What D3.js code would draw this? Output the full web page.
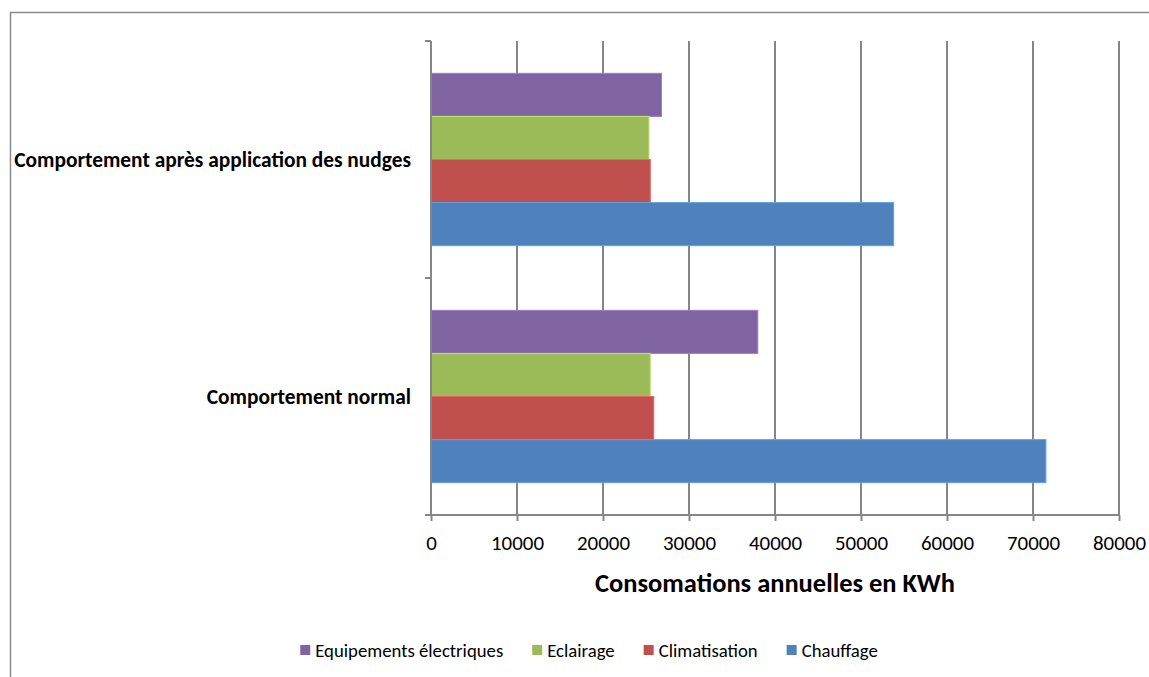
<!DOCTYPE html>
<html>
<head>
<meta charset="utf-8">
<script src="https://cdn.jsdelivr.net/npm/d3@7"></script>
<style>
  html, body { margin: 0; padding: 0; background: #fff; }
  svg { display: block; }
  text { font-family: Carlito, Calibri, Lato, "Open Sans", sans-serif; fill: #000; }
</style>
</head>
<body>
<svg id="chart" width="1149" height="677"></svg>
<script>
// ---- Data ----
const categories = ["Comportement après application des nudges", "Comportement normal"];
const seriesNames = ["Equipements électriques", "Eclairage", "Climatisation", "Chauffage"];
const seriesColors = ["#8064A2", "#9BBB59", "#C0504D", "#4F81BD"];
// values per series, in category order [nudges, normal]
const equipements = [26800, 38000];
const eclairage = [25350, 25500];
const climatisation = [25500, 25900];
const chauffage = [53800, 71500];
const xTicks = [0, 10000, 20000, 30000, 40000, 50000, 60000, 70000, 80000];
const xTitle = "Consomations annuelles en KWh";

const seriesValues = [equipements, eclairage, climatisation, chauffage];

// ---- Layout ----
const svg = d3.select("#chart");
const plot = { left: 431, right: 1119, top: 41, bottom: 515 };
const gridColor = "#868686";

function fitFont(sel, refText, targetWidth, baseSize) {
  const t = svg.append("text").attr("font-size", baseSize)
    .attr("font-weight", sel.weight || "normal").text(refText);
  const w = t.node().getComputedTextLength();
  t.remove();
  return baseSize * targetWidth / w;
}

const x = d3.scaleLinear().domain([0, 80000]).range([plot.left, plot.right]);
const y = d3.scaleBand().domain(categories).range([plot.top, plot.bottom]).paddingInner(0).paddingOuter(0);
const ySub = d3.scaleBand().domain(seriesNames).range([0, y.bandwidth()]).paddingInner(0).paddingOuter(0.75);

// outer frame (top and left only visible)
svg.append("path")
  .attr("d", `M10.5,677 L10.5,12.5 L1149,12.5`)
  .attr("fill", "none").attr("stroke", "#8a8a8a").attr("stroke-width", 1.5);

// gridlines
svg.append("g").selectAll("line").data(xTicks.slice(1)).join("line")
  .attr("x1", d => x(d)).attr("x2", d => x(d))
  .attr("y1", plot.top).attr("y2", plot.bottom)
  .attr("stroke", gridColor).attr("stroke-width", 2);

// bars
const groups = svg.append("g").selectAll("g").data(categories).join("g")
  .attr("transform", d => `translate(0,${y(d)})`);
groups.each(function(cat, ci) {
  d3.select(this).selectAll("rect").data(seriesNames).join("rect")
    .attr("x", x(0))
    .attr("y", s => ySub(s))
    .attr("width", (s, si) => x(seriesValues[si][ci]) - x(0))
    .attr("height", ySub.bandwidth())
    .attr("fill", (s, si) => seriesColors[si])
    .attr("stroke", (s, si) => d3.color(seriesColors[si]).brighter(0.6))
    .attr("stroke-width", 1);
});

// x axis
const xAxis = d3.axisBottom(x).tickValues(xTicks).tickSize(6).tickFormat(d3.format("d"));
const tickSize = fitFont({}, "10000", 53, 16);
const gx = svg.append("g").attr("transform", `translate(0,${plot.bottom})`).call(xAxis);
gx.select(".domain").attr("stroke", gridColor).attr("stroke-width", 2)
  .attr("d", `M${plot.left},0H${plot.right}`);
gx.selectAll(".tick line").attr("stroke", gridColor).attr("stroke-width", 2);
gx.selectAll(".tick text").attr("font-size", tickSize)
  .attr("font-family", "Carlito, Calibri, Lato, 'Open Sans', sans-serif")
  .attr("fill", "#000").attr("y", 0).attr("dy", "0.35em")
  .attr("transform", "translate(0,28)");

// y axis
const yTicksPos = [plot.top, plot.top + y.bandwidth(), plot.bottom];
svg.append("line").attr("x1", plot.left).attr("x2", plot.left)
  .attr("y1", plot.top).attr("y2", plot.bottom)
  .attr("stroke", gridColor).attr("stroke-width", 2);
svg.append("g").selectAll("line").data(yTicksPos).join("line")
  .attr("x1", plot.left - 6).attr("x2", plot.left)
  .attr("y1", d => d).attr("y2", d => d)
  .attr("stroke", gridColor).attr("stroke-width", 2);

// category labels
const catSize = fitFont({ weight: "bold" }, categories[0], 397, 16);
svg.append("g").selectAll("text").data(categories).join("text")
  .attr("x", 411).attr("y", d => y(d) + y.bandwidth() / 2)
  .attr("dy", "0.35em").attr("text-anchor", "end")
  .attr("font-weight", "bold").attr("font-size", catSize)
  .text(d => d);

// x title
const titleSize = fitFont({ weight: "bold" }, xTitle, 360, 20);
svg.append("text").attr("x", (plot.left + plot.right) / 2).attr("y", 583)
  .attr("dy", "0.35em").attr("text-anchor", "middle")
  .attr("font-weight", "bold").attr("font-size", titleSize)
  .text(xTitle);

// legend
const legSize = fitFont({}, seriesNames[0], 188, 15);
const legY = 650, markerSize = 10, markerGap = 5, itemGap = 29;
const leg = svg.append("g");
const items = leg.selectAll("g").data(seriesNames).join("g");
items.append("rect").attr("width", markerSize).attr("height", markerSize)
  .attr("y", legY - markerSize / 2)
  .attr("fill", (d, i) => seriesColors[i]);
items.append("text").attr("x", markerSize + markerGap).attr("y", legY)
  .attr("dy", "0.35em").attr("font-size", legSize).text(d => d);
let cx = 0;
const offsets = [];
items.each(function() {
  offsets.push(cx);
  const w = markerSize + markerGap + d3.select(this).select("text").node().getComputedTextLength();
  cx += w + itemGap;
});
const totalW = cx - itemGap;
const legLeft = 589 - totalW / 2;
items.attr("transform", (d, i) => `translate(${legLeft + offsets[i]},0)`);
</script>
</body>
</html>
